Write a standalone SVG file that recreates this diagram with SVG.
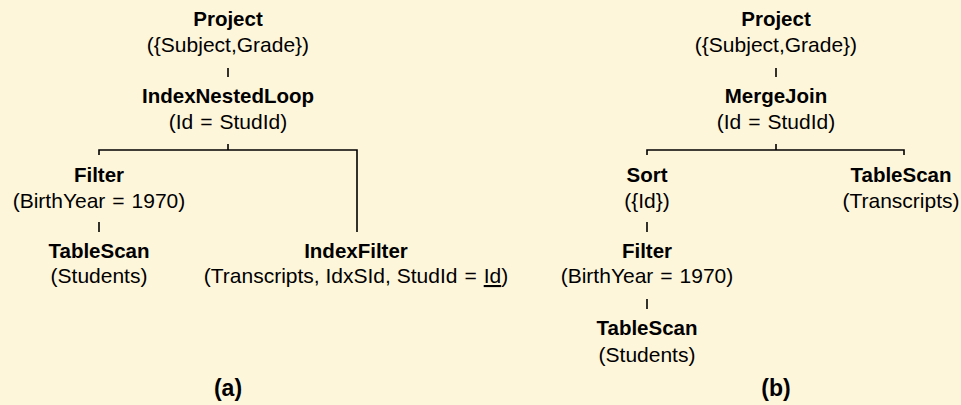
<svg xmlns="http://www.w3.org/2000/svg" width="961" height="405" viewBox="0 0 961 405">
<style>
text{font-family:"Liberation Sans",Arial,Helvetica,sans-serif;font-size:21px;fill:#000;text-anchor:middle}
.b{font-weight:bold;font-size:20.5px}
.l{font-weight:bold;font-size:23px}
.c{fill:none;stroke:#000;stroke-width:1.6}
.u{text-decoration:underline}
</style>
<rect width="961" height="405" fill="#fef6db"/>
<g id="connectors">
<path class="c" d="M228 68V77"/>
<path class="c" d="M228 144V150M99 155V150H357V232"/>
<path class="c" d="M99 222V232"/>
<path class="c" d="M776 68V77"/>
<path class="c" d="M776 144V150M647 155V150H904V155"/>
<path class="c" d="M647 222V232"/>
<path class="c" d="M647 299V309"/>
</g>
<g id="a-project"><text class="b" x="228" y="26">Project</text><text x="228" y="52">({Subject,Grade})</text></g>
<g id="a-inl"><text class="b" x="228" y="103">IndexNestedLoop</text><text x="228" y="129">(Id&#8196;=&#8196;StudId)</text></g>
<g id="a-filter"><text class="b" x="99" y="182">Filter</text><text x="99" y="208">(BirthYear&#8196;=&#8196;1970)</text></g>
<g id="a-tablescan"><text class="b" x="99" y="258">TableScan</text><text x="99" y="283">(Students)</text></g>
<g id="a-indexfilter"><text class="b" x="356" y="258">IndexFilter</text><text x="356" y="283">(Transcripts, IdxSId, StudId&#8196;=&#8196;<tspan class="u">Id</tspan>)</text></g>
<g id="a-label"><text class="l" x="228" y="396">(a)</text></g>
<g id="b-project"><text class="b" x="776" y="26">Project</text><text x="776" y="52">({Subject,Grade})</text></g>
<g id="b-mergejoin"><text class="b" x="776" y="103">MergeJoin</text><text x="776" y="129">(Id&#8196;=&#8196;StudId)</text></g>
<g id="b-sort"><text class="b" x="647" y="182">Sort</text><text x="647" y="208">({Id})</text></g>
<g id="b-tablescan-t"><text class="b" x="901" y="182">TableScan</text><text x="901" y="208">(Transcripts)</text></g>
<g id="b-filter"><text class="b" x="647" y="258">Filter</text><text x="647" y="283">(BirthYear&#8196;=&#8196;1970)</text></g>
<g id="b-tablescan-s"><text class="b" x="647" y="335">TableScan</text><text x="647" y="362">(Students)</text></g>
<g id="b-label"><text class="l" x="776" y="396">(b)</text></g>
</svg>
